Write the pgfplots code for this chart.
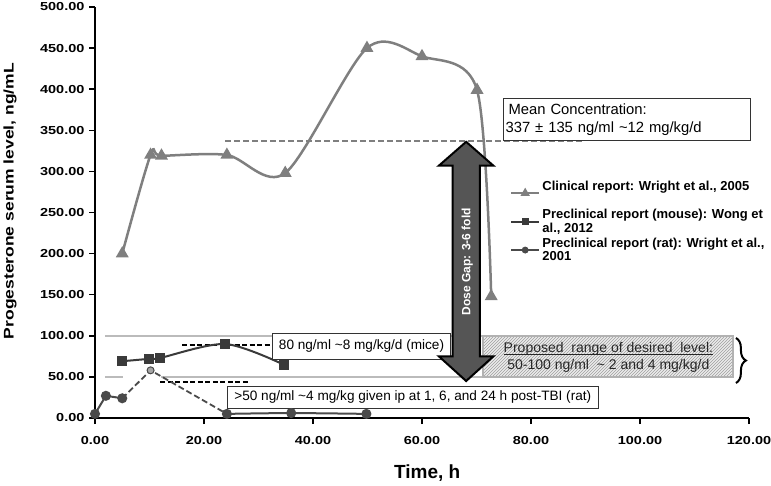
\documentclass[border=0pt]{standalone}
\usepackage{fontspec}
\setmainfont{Liberation Sans}
\newfontfamily\widefont[FakeStretch=1.25]{Liberation Sans}
\usepackage{pgfplots}
\pgfplotsset{compat=1.18}
\usetikzlibrary{patterns,decorations.pathreplacing}
\definecolor{clin}{HTML}{7F7F7F}
\definecolor{mouse}{HTML}{3A3A3A}
\definecolor{rat}{HTML}{4A4A4A}
\definecolor{refgray}{HTML}{BBBBBB}
\definecolor{arrowfill}{HTML}{555555}
\newcommand\myul[1]{\setbox0\hbox{#1}\rlap{\rule[-2.3pt]{\wd0}{0.9pt}}\box0}
\begin{document}
\begin{tikzpicture}
\path[use as bounding box] (-95pt,-67pt) rectangle (676pt,418pt);
\begin{axis}[
  at={(0,0)}, anchor=south west,
  scale only axis, width=654pt, height=411pt,
  xmin=0, xmax=120, ymin=0, ymax=500,
  axis x line*=bottom, axis y line*=left,
  axis line style={line width=2pt, black},
  xtick={0,20,...,120}, ytick={0,50,...,500},
  tick align=outside, major tick length=6pt,
  tick style={line width=1.5pt, black},
  ticklabel style={font=\widefont\bfseries\fontsize{11.6}{13}\selectfont},
  yticklabel style={xshift=-1pt},
  xticklabel style={yshift=-9pt},
  /pgf/number format/.cd, fixed, fixed zerofill, precision=2, assume math mode=true, 1000 sep={},
  /pgfplots/.cd,
  xlabel={Time, h}, ylabel={Progesterone serum level, ng/mL},
  every axis x label/.style={at={(axis description cs:0.508,-0.134)}, anchor=center, font=\bfseries\fontsize{19}{22}\selectfont},
  every axis y label/.style={at={(axis description cs:-0.13,0.528)}, rotate=90, anchor=center, font=\widefont\bfseries\fontsize{14}{16}\selectfont},
  clip=false,
  legend style={at={(axis cs:76.1,291)}, anchor=north west, draw=none, fill=none,
    font=\bfseries\fontsize{13}{13.5}\selectfont, cells={anchor=west, align=left},
    inner sep=0pt, row sep=0pt},
  legend image code/.code={%
    \draw[mark repeat=2,mark phase=2,mark options={scale=0.6}] plot coordinates {(0pt,0pt) (14pt,0pt) (28pt,0pt)};},
]
% reference grey lines
\draw[refgray, line width=2pt] (axis cs:1.8,100) -- (axis cs:71.2,100);
\draw[refgray, line width=2pt] (axis cs:1.8,50) -- (axis cs:5.1,50);
\draw[refgray, line width=2pt] (axis cs:12.1,50) -- (axis cs:71.2,50);
% hatched box
\fill[gray!15] (axis cs:71.2,50) rectangle (axis cs:117,100);
\draw[draw=gray!60, line width=2pt, pattern=north east lines, pattern color=gray!75] (axis cs:71.2,50) rectangle (axis cs:117,100);
\node[text=black!85, font=\fontsize{14}{17}\selectfont, anchor=base] at (axis cs:94.2,80) {\myul{Proposed\ \ range of desired\ \ level:}};
\node[text=black!85, font=\fontsize{14}{17}\selectfont, anchor=base] at (axis cs:94.2,59) {50-100 ng/ml\ \ \textasciitilde\ 2 and 4 mg/kg/d};
% dashed references
\draw[clin, line width=2pt, dash pattern=on 6pt off 3pt] (axis cs:23.9,337) -- (axis cs:89.4,337);
\draw[black, line width=1.5pt, dash pattern=on 5pt off 2.5pt] (axis cs:16,88.8) -- (axis cs:32.5,88.8);
\draw[black, line width=1.5pt, dash pattern=on 5pt off 2.5pt] (axis cs:12,43.8) -- (axis cs:28.4,43.8);

\addplot[clin, line width=2.5pt, smooth, mark=triangle*, mark size=5pt, mark options={solid}] coordinates {
 (5,200) (10.2,320) (12.2,319) (24.2,320) (34.9,298) (49.9,450) (60,440) (70.1,399) (72.7,148)};
\addlegendentry{Clinical report: Wright et al., 2005\\\mbox{}}
\addplot[mouse, line width=2pt, smooth, mark=square*, mark size=4pt] coordinates {
 (4.9,69) (10,72) (11.9,73) (23.9,90) (34.6,65)};
\addlegendentry{Preclinical report (mouse): Wong et\\al., 2012}
\addplot[rat, line width=2pt, mark=*, mark size=4pt] coordinates {
 (0,5) (2,27) (5,24)};
\addlegendentry{Preclinical report (rat): Wright et al.,\\2001}
\addplot[rat, line width=1.8pt, dash pattern=on 6pt off 3pt, forget plot] coordinates {
 (5,24) (10.2,58) (24.2,5)};
\addplot[rat, line width=2pt, smooth, mark=*, mark size=4pt, forget plot] coordinates {
 (24.2,5) (36,6) (49.8,5)};
\addplot[only marks, mark=*, mark size=3.5pt, mark options={fill=gray!70, draw=rat, line width=1pt}, forget plot] coordinates {(10.2,58)};

% boxes
\node[draw=black!80, line width=0.8pt, fill=white, anchor=north west, minimum width=178pt, minimum height=26pt, inner sep=2pt, font=\fontsize{13.6}{15}\selectfont] at (axis cs:32.5,103.4) {80 ng/ml \textasciitilde8 mg/kg/d (mice)};
\node[draw=black!80, line width=0.8pt, fill=white, anchor=north west, minimum width=371pt, minimum height=22pt, inner sep=1pt, font=\fontsize{13.6}{15}\selectfont] at (axis cs:24.2,38.9) {>50 ng/ml \textasciitilde4 mg/kg given ip at 1, 6, and 24 h post-TBI (rat)};
\node[draw=black!80, line width=0.8pt, fill=white, anchor=north west, minimum width=247pt, minimum height=42pt, text width=243pt, inner sep=2pt, align=left, font=\fontsize{14.8}{18}\selectfont] at (axis cs:74.9,389.3) {\hspace{3pt}Mean Concentration:\\337 ± 135 ng/ml \textasciitilde12 mg/kg/d};
% double arrow
\draw[fill=arrowfill, draw=black, line width=2pt, line join=miter]
 (axis cs:68.1,336) -- (axis cs:73.1,307) -- (axis cs:70.6,307) -- (axis cs:70.6,75) -- (axis cs:73.1,75)
 -- (axis cs:68.1,45) -- (axis cs:63.1,75) -- (axis cs:65.6,75) -- (axis cs:65.6,307) -- (axis cs:63.1,307) -- cycle;
\node[rotate=90, text=white, font=\bfseries\fontsize{12}{13}\selectfont] at (axis cs:68.3,190) {Dose Gap: 3-6 fold};
% brace
\draw[decorate, decoration={brace, amplitude=10pt}, line width=2pt] (axis cs:117.6,97.3) -- (axis cs:117.6,42.6);
\end{axis}
\end{tikzpicture}
\end{document}
